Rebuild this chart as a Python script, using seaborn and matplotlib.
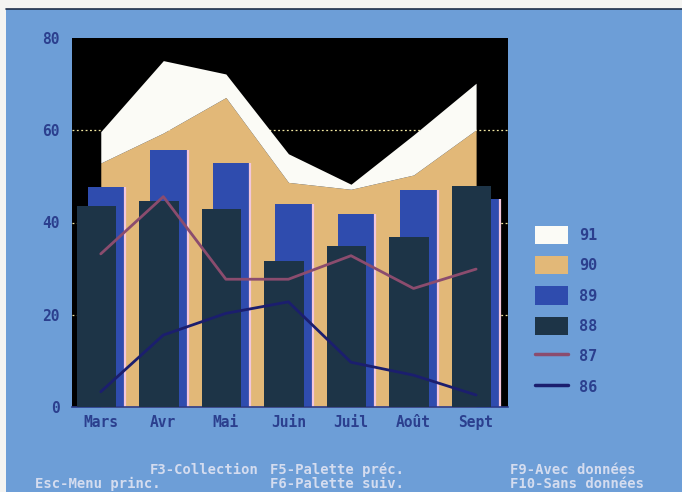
import numpy as np
import seaborn as sns
import matplotlib.pyplot as plt
from matplotlib.patches import Patch, Rectangle
from matplotlib.lines import Line2D

# chart data
months = ['Mars', 'Avr', 'Mai', 'Juin', 'Juil', 'Août', 'Sept']
s91 = [59.7, 75.1, 72.2, 54.9, 48.3, 59.0, 70.2]   # cumulated top (white)
s90 = [52.9, 59.4, 67.1, 48.7, 47.2, 50.3, 60.1]   # cumulated top (tan)
s89 = [47.6, 55.7, 53.0, 44.0, 41.8, 47.1, 45.1]
s88 = [43.6, 44.6, 42.9, 31.7, 34.9, 36.9, 47.9]
s87 = [33.2, 45.6, 27.7, 27.7, 32.8, 25.7, 29.9]
s86 = [3.3, 15.6, 20.3, 22.8, 9.7, 6.9, 2.6]
yticks = [0, 20, 40, 60, 80]
legend_labels = ['91', '90', '89', '88', '87', '86']

BG = '#6d9ed7'
C91 = '#fbfbf6'
C90 = '#e2b878'
C89 = '#2f4cae'
C88 = '#1d3447'
C87 = '#8b4c6e'
C86 = '#1b1e6e'
TXT = '#2b3f8e'

sns.set_style('dark')
plt.rcParams['font.family'] = ['DejaVu Sans Mono', 'DejaVu Sans']

fig = plt.figure(figsize=(6.82, 4.92), dpi=100, facecolor='#f4f4f2')
# the screen area of the photo
fig.patches.append(Rectangle((6 / 682, 0), 1, 1 - 9 / 492, transform=fig.transFigure,
                             facecolor=BG, edgecolor='none', zorder=-10))
fig.lines.append(Line2D([6 / 682, 1], [1 - 9 / 492] * 2, transform=fig.transFigure,
                        color='#20304a', lw=1.2, zorder=-9))

ax = fig.add_axes([72 / 682, 1 - 407 / 492, 436 / 682, 369 / 492])
ax.set_facecolor('black')
x = np.arange(len(months))

# dotted grid behind everything
for g in [20, 40, 60]:
    ax.axhline(g, color='#f0e6a0', lw=0.9, ls=(0, (1.5, 2)), zorder=0)

# stacked areas
ax.fill_between(x, 0, s90, color=C90, lw=0, zorder=1)
ax.fill_between(x, s90, s91, color=C91, lw=0, zorder=1)

# bars: blue behind, dark in front, shifted
ax.bar(x + 0.09, s89, width=0.6, color=C89, lw=0, zorder=2)
ax.vlines(x + 0.39, 0, s89, color='#f2c6dc', lw=1.6, zorder=2)
ax.bar(x - 0.07, s88, width=0.63, color=C88, lw=0, zorder=3)

# lines
sns.lineplot(x=x, y=s87, ax=ax, color=C87, lw=2, zorder=4)
sns.lineplot(x=x, y=s86, ax=ax, color=C86, lw=2, zorder=4)

ax.set_xlim(-0.46, 6.51)
ax.set_ylim(0, 80)
ax.set_xticks(x)
ax.set_xticklabels(months)
ax.set_yticks(yticks)
ax.set_yticklabels([str(v) for v in yticks])
ax.tick_params(axis='both', colors=TXT, labelsize=10.5, length=0, pad=6)
ax.tick_params(axis='y', pad=9)
for lab in ax.get_xticklabels() + ax.get_yticklabels():
    lab.set_fontweight('bold')
ax.grid(False)
for side in ['top', 'left', 'right']:
    ax.spines[side].set_visible(False)
ax.spines['bottom'].set_color('#2a3b8a')
ax.spines['bottom'].set_linewidth(1.2)

handles = [Patch(facecolor=C91, edgecolor='none'),
           Patch(facecolor=C90, edgecolor='none'),
           Patch(facecolor=C89, edgecolor='none'),
           Patch(facecolor=C88, edgecolor='none'),
           Line2D([], [], color=C87, lw=2.5),
           Line2D([], [], color=C86, lw=2.5)]
leg = fig.legend(handles, legend_labels, loc='upper left',
                 bbox_to_anchor=(521 / 682, 1 - 212 / 492), frameon=False,
                 handlelength=2.15, handleheight=1.45, labelspacing=0.8,
                 handletextpad=0.75, prop={'size': 11, 'weight': 'bold'})
for t in leg.get_texts():
    t.set_color(TXT)

foot = dict(color='#d4dcef', fontsize=10, fontweight='bold', va='baseline')
fig.text(150 / 682, 1 - 474 / 492, 'F3-Collection', **foot)
fig.text(270 / 682, 1 - 474 / 492, 'F5-Palette préc.', **foot)
fig.text(510 / 682, 1 - 474 / 492, 'F9-Avec données', **foot)
fig.text(35 / 682, 1 - 488 / 492, 'Esc-Menu princ.', **foot)
fig.text(270 / 682, 1 - 488 / 492, 'F6-Palette suiv.', **foot)
fig.text(510 / 682, 1 - 488 / 492, 'F10-Sans données', **foot)

fig.savefig('out.png', dpi=100, facecolor=fig.get_facecolor())
